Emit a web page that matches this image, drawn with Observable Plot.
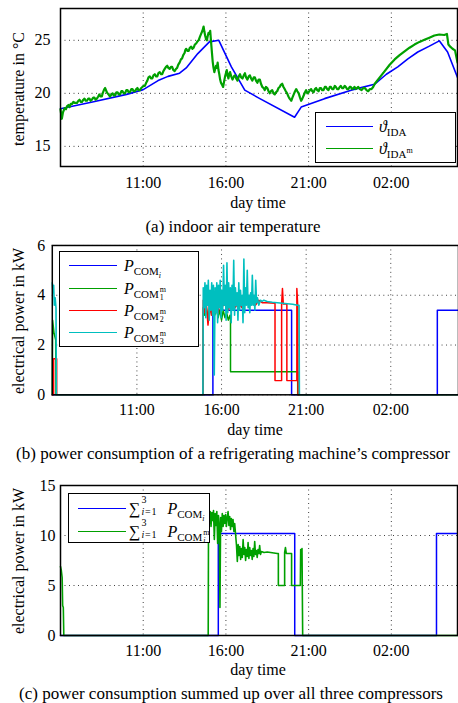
<!DOCTYPE html>
<html><head><meta charset="utf-8">
<script src="https://cdn.jsdelivr.net/npm/d3@7"></script>
<script src="https://cdn.jsdelivr.net/npm/@observablehq/plot@0.6"></script>
<style>
html,body{margin:0;padding:0;background:#fff;overflow:hidden}
#root{position:relative;width:458px;height:703px;overflow:hidden;font-family:"Liberation Serif","Times New Roman",serif;color:#000}
.panel{position:absolute;left:0}
.lbl{position:absolute;white-space:nowrap;font-size:16px;line-height:1;transform:translate(-50%,-50%)}
.ylbl{transform:translate(-50%,-50%) rotate(-90deg)}
.cap{font-size:17px}
.legend{position:absolute;background:#fff;border:1.5px solid #000;box-sizing:border-box}
.sw{position:absolute;height:0;border-top:1.5px solid}
.et{position:absolute;font-size:16px;white-space:nowrap;line-height:1;transform:translateY(-50%)}
.sb{font-size:11px;position:relative;top:4px}
.sb2{font-size:8px;position:relative;top:3px}
.sp{font-size:8px;position:relative;top:-5px}
.st{display:inline-block;position:relative;width:6px;height:1px;font-size:8px;line-height:1}
.st .a{position:absolute;left:1px;top:-11px}
.st .b{position:absolute;left:1px;top:-3px}
.sig{font-size:16px}
.st2{display:inline-block;position:relative;width:23px;height:1px;font-size:10px;line-height:0.9}
.st2 .a{position:absolute;left:1px;top:-18px}
.st2 .b{position:absolute;left:1px;top:-6px;letter-spacing:0.8px}
</style>
</head><body><div id="root"></div>
<script>
// ---------- data ----------
const xTicks = [11, 16, 21, 26];
const tickLabels = ["11:00", "16:00", "21:00", "02:00"];
const tempTicks = [15, 20, 25];
const powerTicks = [0, 2, 4, 6];
const sumTicks = [0, 5, 10, 15];

// (a) indoor air temperature, [hour, °C]
const tempSim = [[6,18.55],[8,19.2],[10,19.9],[11,20.35],[11.9,21.2],[12.5,21.6],[13.2,21.9],[13.6,22.4],[14.3,23.75],[15.0,24.85],[15.57,25.0],[16.33,22.5],[17.14,20.3],[17.94,19.6],[20.15,17.75],[20.55,18.7],[21.96,19.5],[23.57,20.3],[24.98,20.85],[25.7,21.8],[26.39,22.5],[27.0,23.25],[27.6,23.9],[28.3,24.45],[28.9,24.95],[29.4,23.9],[30,21.5]];
const tempMeas = [[6.0,18.5],[6.08,17.6],[6.15,18.2],[6.25,18.6],[6.33,18.5],[6.4,18.8],[6.48,18.9],[6.55,18.7],[6.62,19.0],[6.7,19.0],[6.78,19.2],[6.85,19.1],[7.0,19.1],[7.08,19.3],[7.15,19.4],[7.22,19.2],[7.3,19.2],[7.38,19.4],[7.45,19.5],[7.52,19.3],[7.6,19.3],[7.68,19.5],[7.75,19.5],[7.82,19.3],[7.9,19.4],[7.98,19.6],[8.05,19.6],[8.12,19.4],[8.2,19.5],[8.28,19.7],[8.35,19.9],[8.42,19.7],[8.5,19.7],[8.55,20.0],[8.6,20.2],[8.65,20.4],[8.7,20.5],[8.75,20.3],[8.8,20.1],[8.85,20.0],[8.9,19.9],[8.95,19.8],[9.0,19.7],[9.08,19.9],[9.15,20.0],[9.22,19.8],[9.3,19.8],[9.38,20.1],[9.45,20.1],[9.52,19.9],[9.6,19.9],[9.68,20.2],[9.75,20.2],[9.82,20.0],[9.9,20.0],[9.98,20.3],[10.05,20.3],[10.12,20.1],[10.2,20.1],[10.28,20.4],[10.35,20.4],[10.42,20.2],[10.5,20.2],[10.58,20.4],[10.65,20.5],[10.72,20.3],[10.8,20.3],[10.88,20.5],[10.95,20.6],[11.03,20.7],[11.1,20.7],[11.18,21.0],[11.25,21.2],[11.32,21.5],[11.4,21.6],[11.48,21.4],[11.55,21.4],[11.62,21.7],[11.7,21.8],[11.78,21.6],[11.85,21.6],[11.92,21.9],[12.0,22.0],[12.08,21.8],[12.15,21.8],[12.22,22.1],[12.3,22.3],[12.38,22.5],[12.45,22.6],[12.52,22.4],[12.6,22.3],[12.68,22.5],[12.75,22.5],[12.82,22.2],[12.9,22.1],[12.98,22.3],[13.05,22.4],[13.12,22.7],[13.2,22.9],[13.28,23.2],[13.35,23.3],[13.42,23.6],[13.5,23.8],[13.55,24.1],[13.6,24.2],[13.68,24.0],[13.75,24.0],[13.82,24.3],[13.9,24.4],[13.98,24.2],[14.05,24.3],[14.12,24.6],[14.2,24.7],[14.28,24.9],[14.35,25.0],[14.42,25.3],[14.5,25.6],[14.58,25.9],[14.65,26.3],[14.7,25.8],[14.75,25.4],[14.8,25.1],[14.85,25.0],[14.9,25.4],[14.95,25.7],[15.0,25.6],[15.05,25.9],[15.12,24.5],[15.2,23.0],[15.25,22.4],[15.3,22.0],[15.35,22.3],[15.4,22.6],[15.45,22.4],[15.5,22.9],[15.55,22.2],[15.6,21.8],[15.65,21.3],[15.7,21.0],[15.77,20.8],[15.83,20.6],[15.9,21.2],[15.95,21.6],[16.0,21.9],[16.05,22.2],[16.1,21.7],[16.15,21.4],[16.2,21.8],[16.25,22.0],[16.32,21.6],[16.4,21.3],[16.48,21.6],[16.55,21.7],[16.62,21.4],[16.7,21.2],[16.78,21.6],[16.85,21.8],[16.92,21.5],[17.0,21.4],[17.08,21.7],[17.15,21.9],[17.22,21.5],[17.3,21.3],[17.38,21.6],[17.45,21.7],[17.52,21.4],[17.6,21.2],[17.68,21.5],[17.75,21.5],[17.82,21.2],[17.9,21.0],[17.98,21.3],[18.05,21.3],[18.12,20.9],[18.2,20.6],[18.28,20.5],[18.35,20.3],[18.42,20.6],[18.5,20.5],[18.58,20.2],[18.65,20.0],[18.72,20.2],[18.8,20.3],[18.88,20.0],[18.95,19.9],[19.02,20.1],[19.1,20.2],[19.18,20.5],[19.25,20.6],[19.32,20.8],[19.4,20.9],[19.48,20.6],[19.55,20.4],[19.62,20.2],[19.7,20.0],[19.78,19.7],[19.85,19.5],[19.9,19.4],[19.95,19.3],[20.02,19.6],[20.1,19.9],[20.18,20.2],[20.25,20.4],[20.32,20.2],[20.4,20.0],[20.48,19.6],[20.55,19.3],[20.62,19.5],[20.7,19.8],[20.78,20.1],[20.85,20.3],[20.92,20.0],[21.0,20.1],[21.08,20.3],[21.15,20.4],[21.22,20.2],[21.3,20.1],[21.38,20.4],[21.45,20.5],[21.52,20.3],[21.6,20.2],[21.68,20.5],[21.75,20.5],[21.82,20.3],[21.9,20.3],[21.98,20.6],[22.05,20.6],[22.12,20.4],[22.2,20.3],[22.28,20.6],[22.35,20.6],[22.42,20.4],[22.5,20.4],[22.58,20.7],[22.65,20.6],[22.72,20.4],[22.8,20.4],[22.88,20.6],[22.95,20.7],[23.02,20.5],[23.1,20.5],[23.18,20.7],[23.25,20.6],[23.32,20.4],[23.4,20.4],[23.48,20.6],[23.55,20.6],[23.62,20.4],[23.7,20.5],[23.78,20.6],[23.85,20.4],[23.92,20.5],[24.0,20.6],[24.1,20.4],[24.2,20.3],[24.3,20.5],[24.4,20.5],[24.5,20.3],[24.6,20.2],[24.7,20.4],[24.8,20.4],[24.9,20.6],[25.0,20.9],[25.3,21.5],[25.6,22.1],[25.9,22.7],[26.2,23.2],[26.5,23.6],[26.8,23.95],[27.1,24.3],[27.4,24.6],[27.7,24.85],[28.0,25.05],[28.3,25.25],[28.6,25.45],[28.9,25.55],[29.2,25.5],[29.36,25.6],[29.45,24.6],[29.56,24.4],[29.7,24.2],[29.85,24.05],[30.0,22.9]];

// (b) compressor power, [hour, kW]
const pSim = [[6,0],[15.49,0],[15.49,3.4],[20.14,3.4],[20.14,0],[28.75,0],[28.75,3.4],[30,3.4]];
const p1Meas = [[6,0],[6.02,3.0],[6.1,2.5],[6.2,2.2],[6.22,0],[14.9,0],[14.92,3.5],[15.0,3.2],[15.1,3.5],[15.2,3.1],[15.3,3.5],[15.4,3.3],[15.5,3.5],[15.6,3.2],[15.7,3.45],[15.8,3.1],[15.9,3.4],[16.0,3.0],[16.1,3.4],[16.2,3.1],[16.3,3.3],[16.4,3.0],[16.5,3.2],[16.53,3.2],[16.53,0.93],[20.5,0.93],[20.5,0],[30,0]];
const p2Meas = [[6,0],[6.08,0],[6.08,1.45],[6.26,1.45],[6.26,0],[14.9,0],[14.92,3.8],[15.0,3.3],[15.1,3.7],[15.2,2.8],[15.3,3.6],[15.4,3.2],[15.5,3.8],[15.6,3.4],[15.7,3.7],[15.8,3.3],[15.9,3.8],[16.0,3.5],[16.2,3.7],[16.4,3.4],[16.6,3.8],[16.8,3.5],[17.0,3.7],[17.2,3.5],[17.4,3.75],[17.6,3.6],[17.8,3.85],[18.0,3.6],[18.2,3.8],[18.4,3.7],[18.7,3.7],[19.16,3.68],[19.16,0.57],[19.55,0.57],[19.55,3.65],[19.6,4.27],[19.65,3.65],[19.86,3.65],[19.86,0.57],[20.45,0.57],[20.45,4.27],[20.5,3.6],[20.52,0],[30,0]];
const p3Meas = [[6,4.5],[6.04,4.1],[6.08,4.4],[6.12,3.6],[6.17,3.9],[6.22,3.5],[6.24,0],[14.9,0],[14.92,4.3],[14.97,3.5],[15.02,4.5],[15.07,3.1],[15.12,4.4],[15.17,3.6],[15.22,4.6],[15.27,3.0],[15.32,4.2],[15.37,3.4],[15.42,4.5],[15.47,3.2],[15.52,4.4],[15.57,0.8],[15.62,4.3],[15.67,3.3],[15.72,4.5],[15.77,2.9],[15.82,4.4],[15.87,3.5],[15.92,4.6],[15.97,3.1],[16.02,4.2],[16.07,3.4],[16.12,5.2],[16.17,3.6],[16.22,4.4],[16.27,3.0],[16.32,5.3],[16.37,3.3],[16.42,4.5],[16.47,3.5],[16.52,4.3],[16.57,2.9],[16.62,4.4],[16.67,3.4],[16.72,5.4],[16.77,3.2],[16.82,4.3],[16.87,3.6],[16.92,4.1],[16.97,3.0],[17.02,4.5],[17.07,3.4],[17.12,4.2],[17.17,3.6],[17.22,4.0],[17.27,2.9],[17.32,5.45],[17.37,3.3],[17.42,4.3],[17.47,3.6],[17.52,5.0],[17.57,3.5],[17.62,4.0],[17.67,3.3],[17.72,4.1],[17.77,3.6],[17.82,4.8],[17.87,3.6],[17.92,4.0],[17.97,3.4],[18.02,4.6],[18.07,3.7],[18.12,3.9],[18.2,3.6],[18.3,3.8],[18.4,3.75],[18.5,3.8],[18.7,3.75],[19.0,3.72],[19.3,3.7],[19.6,3.68],[19.9,3.66],[20.2,3.64],[20.5,3.6],[20.58,3.6],[20.6,0],[30,0]];

// (c) summed power, [hour, kW]
const sumSim = [[6,0],[15.54,0],[15.54,10.2],[20.16,10.2],[20.16,0],[28.73,0],[28.73,10.2],[30,10.2]];
const sumMeas = [[6.0,6.9],[6.05,6.5],[6.1,5.8],[6.13,3.0],[6.17,2.8],[6.2,0],[14.93,0],[14.95,12.6],[15.0,11.2],[15.05,12.4],[15.1,10.9],[15.15,12.3],[15.2,11.5],[15.25,12.5],[15.3,9.6],[15.35,12.2],[15.4,11.0],[15.45,12.4],[15.5,9.2],[15.55,12.0],[15.6,10.8],[15.64,2.8],[15.68,11.8],[15.73,10.4],[15.78,12.2],[15.83,10.9],[15.88,12.0],[15.93,11.2],[15.98,12.1],[16.03,10.9],[16.08,11.8],[16.13,12.4],[16.18,11.0],[16.23,11.9],[16.28,10.6],[16.33,11.7],[16.38,10.9],[16.43,11.6],[16.48,10.4],[16.53,11.2],[16.58,10.2],[16.64,9.0],[16.69,7.4],[16.74,9.1],[16.79,8.0],[16.84,8.9],[16.89,7.6],[16.94,8.7],[16.99,7.8],[17.04,9.6],[17.09,8.1],[17.14,8.8],[17.19,7.5],[17.24,8.6],[17.29,7.9],[17.34,9.3],[17.39,7.7],[17.44,8.8],[17.49,8.0],[17.54,8.5],[17.59,7.6],[17.64,8.7],[17.69,7.9],[17.74,9.4],[17.79,8.1],[17.84,8.5],[17.89,7.8],[17.94,8.6],[17.99,8.2],[18.04,9.0],[18.09,8.1],[18.15,8.4],[18.3,8.3],[18.5,8.35],[18.7,8.3],[18.9,8.25],[19.1,8.2],[19.17,8.2],[19.17,5.0],[19.55,5.0],[19.55,8.3],[19.6,8.8],[19.65,8.2],[19.97,8.2],[19.97,5.0],[20.5,5.0],[20.52,8.6],[20.56,8.3],[20.6,8.7],[20.64,0],[30,0]];

// ---------- drawing ----------
const BLUE = "#0000ff", GREEN = "#00a000", RED = "#ff0000", CYAN = "#00bfbf";
const fmt = h => tickLabels[xTicks.indexOf(h)];
const root = document.getElementById("root");

function makePanel({top, width, height, ml, mr, mt, mb, yDomain, yTicks, yPad, xPad, series}) {
  const svg = Plot.plot({
    width, height, marginLeft: ml, marginRight: mr, marginTop: mt, marginBottom: mb,
    style: {fontFamily: '"Liberation Serif","Times New Roman",serif', fontSize: "16px", background: "transparent", overflow: "visible"},
    x: {domain: [6, 30], label: null},
    y: {domain: yDomain, label: null},
    marks: [
      Plot.gridX(xTicks, {stroke: "#000", strokeOpacity: 0.75, strokeDasharray: "1,3.5"}),
      Plot.gridY(yTicks, {stroke: "#000", strokeOpacity: 0.75, strokeDasharray: "1,3.5"}),
      ...series.map(s => Plot.line(s.data, {x: d => d[0], y: d => d[1], stroke: s.color, strokeWidth: s.w, strokeLinejoin: "round"})),
      Plot.axisX(xTicks, {tickFormat: fmt, tickSize: 0, tickPadding: xPad, label: null, fill: "#000"}),
      Plot.axisY(yTicks, {tickSize: 0, tickPadding: yPad, label: null, fill: "#000"}),
      Plot.frame({stroke: "#000", strokeWidth: 1.5})
    ]
  });
  const div = document.createElement("div");
  div.className = "panel";
  div.style.top = top + "px";
  div.appendChild(svg);
  root.appendChild(div);
}

makePanel({top: 0, width: 458, height: 192, ml: 60, mr: 1, mt: 8, mb: 26, yDomain: [13.1, 28], yTicks: tempTicks, yPad: 10, xPad: 10,
  series: [{data: tempSim, color: BLUE, w: 1.6}, {data: tempMeas, color: GREEN, w: 2.2}]});
makePanel({top: 240, width: 460, height: 180, ml: 52, mr: 0, mt: 5, mb: 25, yDomain: [0, 6], yTicks: powerTicks, yPad: 7, xPad: 9,
  series: [{data: pSim, color: BLUE, w: 1.5}, {data: p1Meas, color: GREEN, w: 1.5}, {data: p2Meas, color: RED, w: 1.5}, {data: p3Meas, color: CYAN, w: 1.6}]});
makePanel({top: 480, width: 458, height: 180, ml: 60, mr: 1, mt: 5, mb: 25, yDomain: [0, 15], yTicks: sumTicks, yPad: 5, xPad: 9,
  series: [{data: sumSim, color: BLUE, w: 1.5}, {data: sumMeas, color: GREEN, w: 1.6}]});

function label(html, x, y, cls) {
  const d = document.createElement("div");
  d.className = "lbl " + (cls || "");
  d.style.left = x + "px"; d.style.top = y + "px";
  d.innerHTML = html;
  root.appendChild(d);
}
label("temperature in °C", 19, 89, "ylbl");
label("electrical power in kW", 19, 321, "ylbl");
label("electrical power in kW", 19, 561, "ylbl");
label("day time", 258, 203);
label("day time", 255, 430);
label("day time", 258, 670);
label("(a) indoor air temperature", 233, 226, "cap");
label("(b) power consumption of a refrigerating machine’s compressor", 233, 453, "cap");
label("(c) power consumption summed up over all three compressors", 231, 693, "cap");

function legend(box, entries) {
  const d = document.createElement("div");
  d.className = "legend";
  Object.assign(d.style, {left: box.x + "px", top: box.y + "px", width: box.w + "px", height: box.h + "px"});
  entries.forEach(e => {
    const s = document.createElement("div");
    s.className = "sw";
    Object.assign(s.style, {left: box.sx + "px", width: box.sw + "px", top: e.y + "px", borderTopColor: e.color});
    d.appendChild(s);
    const t = document.createElement("div");
    t.className = "et";
    Object.assign(t.style, {left: box.tx + "px", top: (e.y + 1) + "px"});
    t.innerHTML = e.html;
    d.appendChild(t);
  });
  root.appendChild(d);
}
const stack = (a, b) => `<span class="st"><span class="a">${a}</span><span class="b">${b}</span></span>`;
const sigma = `<span class="sig">∑</span><span class="st2"><span class="a">3</span><span class="b"><i>i</i>=1</span></span>`;
legend({x: 315, y: 112, w: 141, h: 51, sx: 10, sw: 47, tx: 63}, [
  {y: 13, color: BLUE, html: `<i>ϑ</i><span class="sb">IDA</span>`},
  {y: 35, color: GREEN, html: `<i>ϑ</i><span class="sb">IDA<span class="sp">m</span></span>`}
]);
legend({x: 59, y: 251, w: 140, h: 96, sx: 9, sw: 48, tx: 64}, [
  {y: 13, color: BLUE, html: `<i>P</i><span class="sb">COM<span class="sb2"><i>i</i></span></span>`},
  {y: 36, color: GREEN, html: `<i>P</i><span class="sb">COM${stack("m", "1")}</span>`},
  {y: 58, color: RED, html: `<i>P</i><span class="sb">COM${stack("m", "2")}</span>`},
  {y: 80, color: CYAN, html: `<i>P</i><span class="sb">COM${stack("m", "3")}</span>`}
]);
legend({x: 68, y: 493, w: 142, h: 50, sx: 9, sw: 48, tx: 60}, [
  {y: 14, color: BLUE, html: `${sigma} <i>P</i><span class="sb">COM<span class="sb2"><i>i</i></span></span>`},
  {y: 37, color: GREEN, html: `${sigma} <i>P</i><span class="sb">COM${stack("m", "<i>i</i>")}</span>`}
]);
</script>
</body></html>
